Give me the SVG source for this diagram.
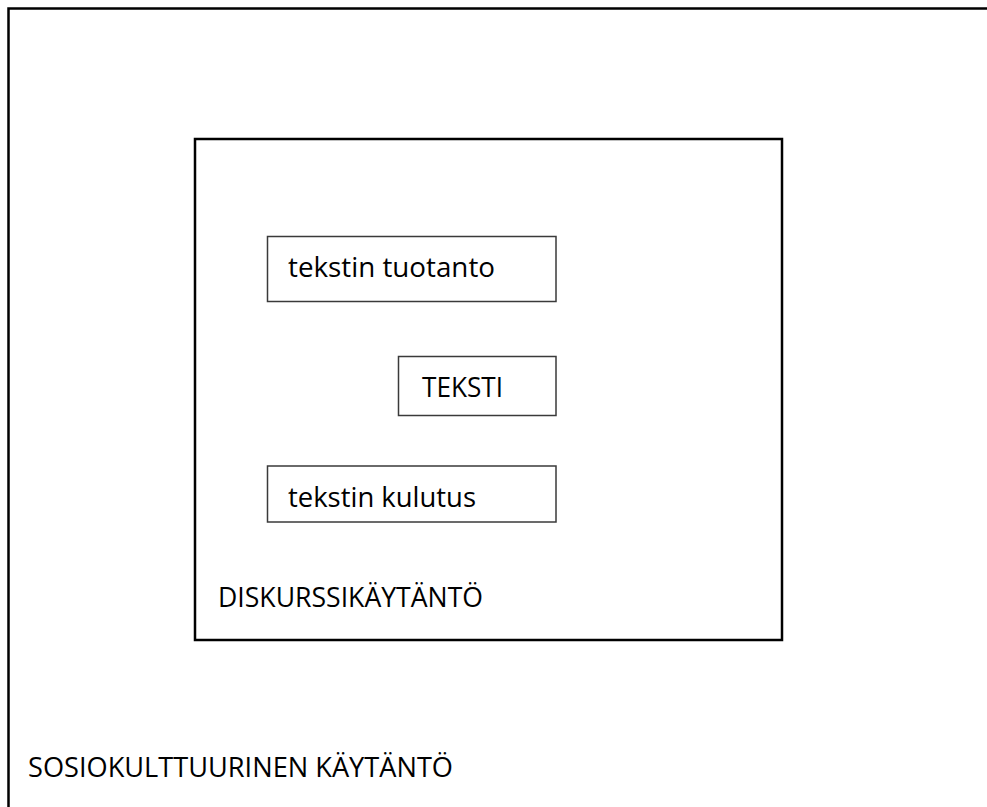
<svg xmlns="http://www.w3.org/2000/svg" width="987" height="807" viewBox="0 0 987 807">
<style>
.frame{fill:none;stroke:#000;stroke-width:2.5}
.box{fill:#fff;stroke:#3a3a3a;stroke-width:1.5}
.t{font-family:"Open Sans","Liberation Sans",sans-serif;font-size:27.5px;fill:#000}
</style>
<rect width="987" height="807" fill="#fff"/>
<g id="sosiokulttuurinen">
<rect class="frame" x="8.5" y="8.5" width="1000" height="820"/>
<text class="t" x="28" y="777" textLength="425" lengthAdjust="spacingAndGlyphs">SOSIOKULTTUURINEN KÄYTÄNTÖ</text>
</g>
<g id="diskurssi">
<rect class="frame" x="195" y="139" width="587" height="501"/>
<text class="t" x="218" y="607" textLength="265" lengthAdjust="spacingAndGlyphs">DISKURSSIKÄYTÄNTÖ</text>
</g>
<g id="tuotanto">
<rect class="box" x="267.5" y="236.5" width="288.5" height="65"/>
<text class="t" x="288" y="277" textLength="207" lengthAdjust="spacingAndGlyphs">tekstin tuotanto</text>
</g>
<g id="teksti">
<rect class="box" x="398.5" y="356.5" width="157.5" height="59"/>
<text class="t" x="422" y="397" textLength="81" lengthAdjust="spacingAndGlyphs">TEKSTI</text>
</g>
<g id="kulutus">
<rect class="box" x="267.5" y="466" width="288.5" height="56"/>
<text class="t" x="288" y="507" textLength="188" lengthAdjust="spacingAndGlyphs">tekstin kulutus</text>
</g>
<g id="connectors"/>
</svg>
